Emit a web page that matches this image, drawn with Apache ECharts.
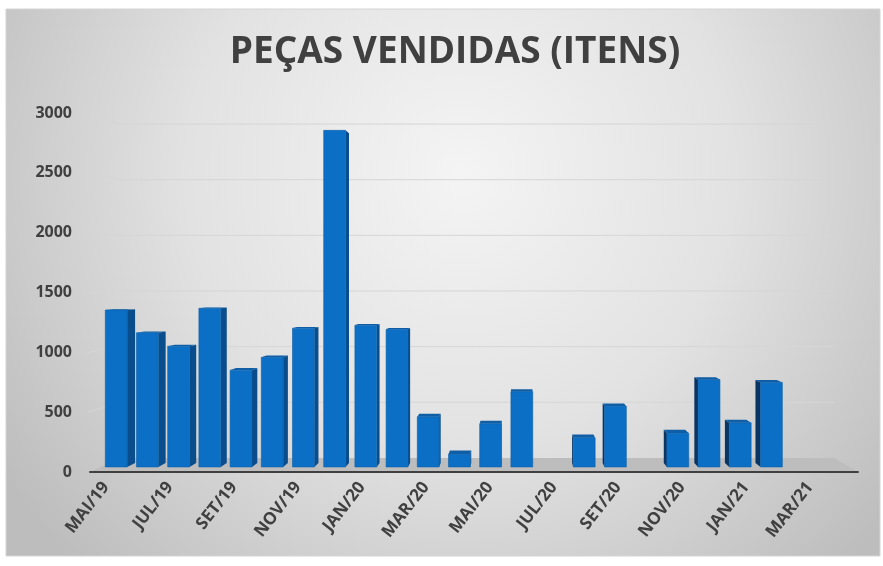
<!DOCTYPE html>
<html>
<head>
<meta charset="utf-8">
<script src="https://cdn.jsdelivr.net/npm/echarts@6/dist/echarts.min.js"></script>
<style>
  html, body { margin: 0; padding: 0; background: #fff; }
  #chart { width: 883px; height: 566px; }
</style>
</head>
<body>
<div id="chart"></div>
<script>
// months, MAI/19 .. ABR/21
const categories = [
  "MAI/19", "JUN/19", "JUL/19", "AGO/19", "SET/19", "OUT/19", "NOV/19", "DEZ/19",
  "JAN/20", "FEV/20", "MAR/20", "ABR/20", "MAI/20", "JUN/20", "JUL/20", "AGO/20",
  "SET/20", "OUT/20", "NOV/20", "DEZ/20", "JAN/21", "FEV/21", "MAR/21", "ABR/21"
];
const pecas = [
  1345, 1150, 1035, 1360, 830, 940, 1190, 2885,
  1215, 1180, 430, 110, 370, 645, 0, 250,
  520, 0, 290, 750, 378, 725, 0, 0
];
const yTicks = [500, 1000, 1500, 2000, 2500, 3000];

var myChart = echarts.init(document.getElementById("chart"));

// fake 3d: front plane is the axis scale, things further back shrink to a vanishing point
function vanish(cs) {
  return [cs.x + cs.width * 0.553, cs.y + cs.height * 0.44];
}
function proj(vp, p, s) {
  return [vp[0] + (p[0] - vp[0]) * s, vp[1] + (p[1] - vp[1]) * s];
}
const FRONT = 0.975;
const BACK = 0.955;
const WALL = 0.93;

function renderBar(params, api) {
  const val = api.value(1);
  if (!val) return;
  const cs = params.coordSys;
  const vp = vanish(cs);
  const top = api.coord([api.value(0), val]);
  const base = api.coord([api.value(0), 0]);
  const hw = api.size([1, 0])[0] * 0.35;
  const tl = [top[0] - hw, top[1]], tr = [top[0] + hw, top[1]];
  const bl = [top[0] - hw, base[1]], br = [top[0] + hw, base[1]];
  const P = (p, s) => proj(vp, p, s);
  const kids = [];
  if (tr[0] < vp[0]) {
    kids.push({
      type: "polygon",
      shape: { points: [P(tr, FRONT), P(br, FRONT), P(br, BACK), P(tr, BACK)] },
      style: { fill: "#0a4d8c" }
    });
  } else if (tl[0] > vp[0]) {
    kids.push({
      type: "polygon",
      shape: { points: [P(tl, FRONT), P(bl, FRONT), P(bl, BACK), P(tl, BACK)] },
      style: { fill: "#0a3462" }
    });
  }
  if (top[1] > vp[1]) {
    kids.push({
      type: "polygon",
      shape: { points: [P(tl, FRONT), P(tr, FRONT), P(tr, BACK), P(tl, BACK)] },
      style: { fill: "#0f5ea6" }
    });
  }
  const a = P(tl, FRONT), b = P(br, FRONT);
  kids.push({
    type: "rect",
    shape: { x: a[0], y: a[1], width: b[0] - a[0], height: b[1] - a[1] },
    style: { fill: "#0b6fc6", stroke: "#0b5fa8", lineWidth: 0.6 }
  });
  return { type: "group", children: kids };
}

function renderGrid(params, api) {
  const cs = params.coordSys;
  const vp = vanish(cs);
  const y = api.coord([0, api.value(1)])[1];
  const l = [cs.x, y], r = [cs.x + cs.width, y];
  return {
    type: "polyline",
    shape: { points: [[cs.x - 2, y], proj(vp, l, WALL), proj(vp, r, WALL)] },
    style: { stroke: "#d6d6d6", lineWidth: 1, fill: null }
  };
}

function renderFloor(params, api) {
  const cs = params.coordSys;
  const vp = vanish(cs);
  const y = api.coord([0, 0])[1];
  const l = [cs.x, y], r = [cs.x + cs.width, y];
  return {
    type: "polygon",
    shape: { points: [l, r, proj(vp, r, WALL), proj(vp, l, WALL)] },
    style: { fill: "#bdbdbd" }
  };
}

myChart.setOption({
  animation: false,
  graphic: [
    {
      type: "rect",
      z: -10,
      silent: true,
      shape: { x: 6, y: 9, width: 874, height: 547 },
      style: {
        fill: {
          type: "radial", x: 0.52, y: 0.3, r: 1.0,
          colorStops: [
            { offset: 0, color: "#f4f4f4" },
            { offset: 0.5, color: "#e2e2e2" },
            { offset: 1, color: "#bdbdbd" }
          ]
        },
        stroke: "#d4d4d4",
        lineWidth: 1
      }
    }
  ],
  title: {
    text: "PEÇAS VENDIDAS (ITENS)",
    left: 450,
    textAlign: "center",
    top: 29,
    textStyle: {
      fontFamily: "Open Sans",
      fontWeight: "bold",
      fontSize: 37,
      color: "#404040"
    }
  },
  grid: { left: 90, right: 25, top: 113, bottom: 94 },
  xAxis: {
    type: "category",
    data: categories,
    z: 10,
    axisLine: { lineStyle: { color: "#404040", width: 2 } },
    axisTick: { interval: 1, length: 5, lineStyle: { color: "#404040", width: 2 } },
    axisLabel: {
      interval: 1,
      rotate: 52,
      margin: 12,
      fontFamily: "Open Sans",
      fontWeight: "bold",
      fontSize: 17,
      color: "#404040"
    }
  },
  yAxis: {
    type: "value",
    min: 0,
    max: 3000,
    interval: 500,
    axisLine: { show: false },
    axisTick: { show: false },
    splitLine: { show: false },
    axisLabel: {
      margin: 18,
      formatter: (v) => String(v),
      fontFamily: "Open Sans",
      fontWeight: "bold",
      fontSize: 16,
      color: "#404040"
    }
  },
  series: [
    {
      type: "custom",
      z: 1,
      renderItem: renderGrid,
      data: yTicks.map((v) => [0, v])
    },
    {
      type: "custom",
      z: 2,
      renderItem: renderFloor,
      data: [[0, 0]]
    },
    {
      name: "Peças vendidas",
      type: "custom",
      z: 3,
      renderItem: renderBar,
      data: pecas.map((v, i) => [i, v])
    }
  ]
});

window.addEventListener("resize", () => {
  myChart.resize();
});
</script>
</body>
</html>
